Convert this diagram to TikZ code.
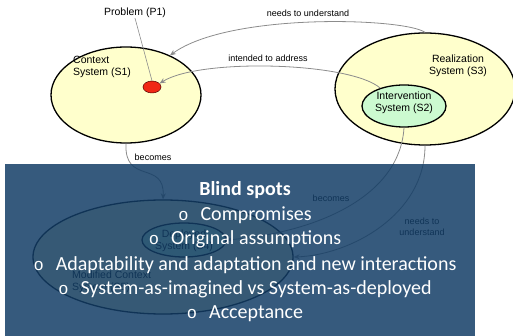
\documentclass[tikz,border=0pt]{standalone}
\usepackage{fontspec}
\setmainfont{Carlito}
\newfontfamily\arialf{Liberation Sans}
\newfontfamily\courf{Liberation Mono}
\usetikzlibrary{shapes.geometric,arrows.meta}
\definecolor{ctxfill}{RGB}{255,255,204}
\definecolor{intfill}{RGB}{204,250,208}
\definecolor{probred}{RGB}{240,40,20}
\definecolor{connc}{RGB}{140,140,140}
\definecolor{panel}{RGB}{19,61,102}
\newcommand\bul{{\courf\fontsize{17}{20}\selectfont o}\hspace{12pt}}
\begin{document}
\begin{tikzpicture}[x=1pt,y=-1pt,
 sys/.style={ellipse, draw=black, line width=1.3pt, fill=ctxfill, inner sep=0pt},
 lbl/.style={font=\arialf\fontsize{10.5}{12.5}\selectfont, align=center, inner sep=0pt},
 elbl/.style={font=\arialf\fontsize{9}{10.5}\selectfont, align=center, inner sep=0pt},
 link/.style={draw=connc, line width=0.8pt, -{Stealth[length=6pt,width=5pt]}},
 bl/.style={font=\fontsize{20}{24}\selectfont, text=white, inner sep=0pt, anchor=base}]
\useasboundingbox (0,0) rectangle (513,336);
\clip (0,0) rectangle (513,336);
% upper systems
\node[sys, minimum width=150pt, minimum height=96pt] (s1) at (126,95) {};
\node[sys, minimum width=180pt, minimum height=112pt] (s3) at (425,89) {};
\node[sys, fill=intfill, minimum width=84pt, minimum height=42pt] (s2) at (404,106) {};
\node[ellipse, draw=black!70!red, line width=0.5pt, fill=probred, minimum width=18pt, minimum height=12pt, inner sep=0pt] (p1) at (152,87) {};
% lower systems
\node[sys, minimum width=260pt, minimum height=114pt] (s5) at (163,257) {};
\node[sys, fill=intfill, minimum width=84pt, minimum height=34pt] (s4) at (184,240) {};
% labels
\node[lbl] (prob) at (135,13) {Problem (P1)};
\node[lbl, align=left, anchor=west] (s1l) at (73,67) {Context\\System (S1)};
\node[lbl] (s3l) at (458,66) {Realization\\System (S3)};
\node[lbl] (s2l) at (404,103) {Intervention\\System (S2)};
\node[lbl] (s4l) at (184,241) {Deployed\\System (S4)};
\node[lbl, align=left, anchor=west] (s5l) at (72,282) {Modified Context\\System (S5)};
% connectors
\draw[connc, line width=0.6pt] (prob.south) -- (p1.north);
\draw[link] (s3.north) .. controls (405,18) and (230,12) .. (s1.42);
\draw[link] (s2.143) .. controls (350,62) and (200,58) .. (p1.25);
\draw[link] (s1.south) .. controls (124,185) and (165,160) .. (s5.north);
\draw[link] (s2.south) .. controls (400,195) and (320,232) .. (s4.east);
\draw[link] (s3.south) .. controls (425,215) and (350,255) .. (s5.east);
\node[elbl] (e1) at (308,13) {needs to understand};
\node[elbl] (e2) at (268,58) {intended to address};
\node[elbl] (e3) at (153,157) {becomes};
\node[elbl] (e4) at (331,198) {becomes};
\node[elbl] (e5) at (422,227) {needs to\\understand};
% overlay panel
\fill[panel, fill opacity=0.85] (5,164) rectangle (475,340);
\node[bl, font=\bfseries\fontsize{20}{24}\selectfont] (b0) at (245,196) {Blind spots};
\node[bl] (b1) at (245,221) {\bul Compromises};
\node[bl] (b2) at (245,245) {\bul Original assumptions};
\node[bl] (b3) at (245,270) {\bul Adaptability and adaptation and new interactions};
\node[bl] (b4) at (245,294) {\bul System-as-imagined vs System-as-deployed};
\node[bl] (b5) at (245,318) {\bul Acceptance};
\end{tikzpicture}
\end{document}
